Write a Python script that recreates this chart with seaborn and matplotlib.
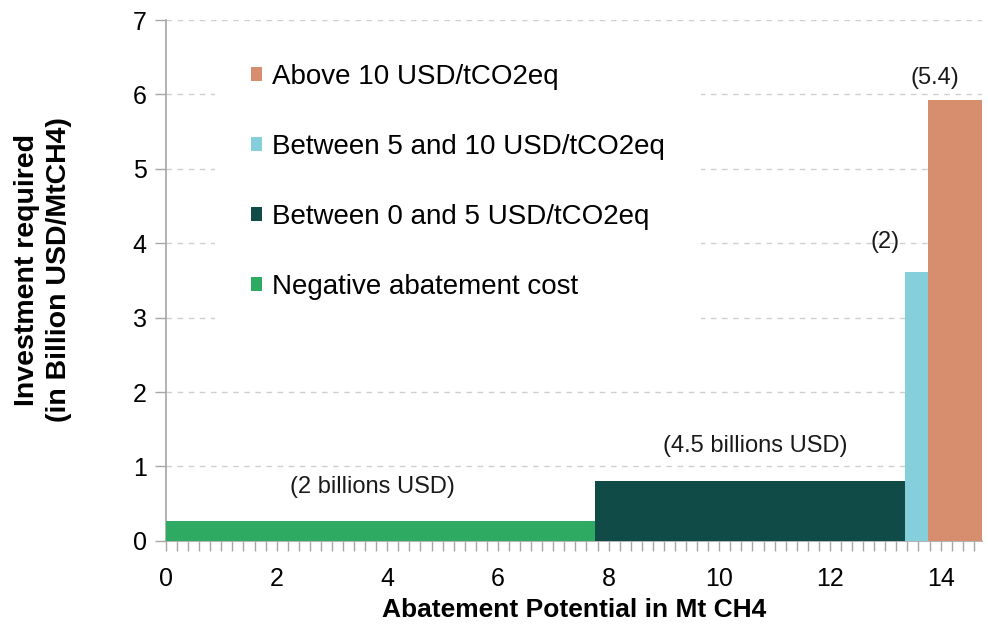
import numpy as np
import pandas as pd
import matplotlib.pyplot as plt
from matplotlib.patches import Patch
from matplotlib.ticker import MultipleLocator
import seaborn as sns

# cost bands along the abatement curve (Mt CH4) and investment (Billion USD/MtCH4)
categories = ["Negative abatement cost", "Between 0 and 5 USD/tCO2eq",
              "Between 5 and 10 USD/tCO2eq", "Above 10 USD/tCO2eq"]
starts = [0.0, 7.75, 13.35, 13.77]
ends = [7.75, 13.35, 13.77, 14.74]
heights = [0.27, 0.81, 3.62, 5.93]
totals = ["(2 billions USD)", "(4.5 billions USD)", "(2)", "(5.4)"]
colors = ["#2FAA62", "#114B48", "#85CEDB", "#D68E6E"]

# where the total labels sit
label_x = [3.74, 10.65, 13.0, 13.9]
label_y = [0.73, 1.28, 4.02, 6.22]

df = pd.DataFrame({"category": categories, "start": starts, "end": ends, "height": heights})
df["mid"] = (df["start"] + df["end"]) / 2
edges = list(starts) + [ends[-1]]

sns.set_theme(style="white")
plt.rcParams["font.family"] = ["Liberation Sans", "DejaVu Sans"]
plt.rcParams["text.color"] = "black"

fig = plt.figure(figsize=(9.88, 6.26), dpi=100)
ax = fig.add_axes([0.168, 0.136, 0.826, 0.832])

sns.histplot(data=df, x="mid", weights="height", bins=edges, hue="category",
             hue_order=categories, palette=colors, alpha=1, linewidth=0,
             legend=False, ax=ax, zorder=3)

for t, x, y in zip(totals, label_x, label_y):
    ax.text(x, y, t, ha="center", va="center", fontsize=17, color="#1A1A1A", zorder=5)

ax.set_xlim(0, 14.75)
ax.set_ylim(0, 7)
ax.set_xticks(range(0, 15, 2))
ax.xaxis.set_minor_locator(MultipleLocator(0.2))
ax.set_yticks(range(0, 8))
ax.yaxis.grid(True, color="#CFCFCF", linestyle=(0, (4, 4)), linewidth=1)
ax.set_axisbelow(True)

for s in ["top", "right"]:
    ax.spines[s].set_visible(False)
for s in ["left", "bottom"]:
    ax.spines[s].set_color("#A6A6A6")
    ax.spines[s].set_linewidth(1.2)
ax.tick_params(axis="x", which="both", direction="out", length=7, width=1,
               color="#A6A6A6", labelsize=18, pad=12, bottom=True, labelcolor="black")
ax.tick_params(axis="y", direction="out", length=8, width=1, color="#A6A6A6",
               labelsize=18, pad=6, left=True, labelcolor="black")

ax.set_xlabel("Abatement Potential in Mt CH4", fontsize=19, fontweight="bold",
              labelpad=5, color="black")
ax.set_ylabel("Investment required\n(in Billion USD/MtCH4)", fontsize=20.5,
              fontweight="bold", linespacing=1.3, color="black")
ax.yaxis.set_label_coords(-0.115, 0.52)

handles = [Patch(facecolor=c, edgecolor="none", label=l) for c, l in zip(colors, categories)]
leg = ax.legend(handles=handles[::-1], loc="upper left", bbox_to_anchor=(0.06, 0.985),
                fontsize=20, frameon=True, facecolor="white", edgecolor="none",
                framealpha=1, fancybox=False, handlelength=0.4, handleheight=0.4,
                handletextpad=0.35, labelspacing=1.58, borderpad=1.3, borderaxespad=0)
leg.set_zorder(4)

fig.savefig("out.png", dpi=100)
